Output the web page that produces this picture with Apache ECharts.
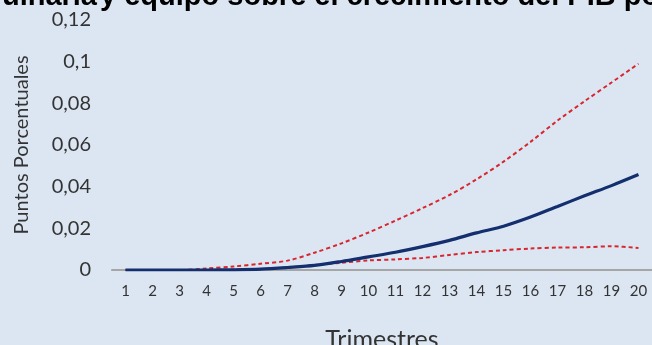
<!DOCTYPE html>
<html>
<head>
<meta charset="utf-8">
<script src="https://cdn.jsdelivr.net/npm/echarts@6/dist/echarts.min.js"></script>
<style>
html,body{margin:0;padding:0;background:#dce6f2;}
#chart{width:652px;height:345px;}
</style>
</head>
<body>
<div id="chart"></div>
<script>
var categories = ['1','2','3','4','5','6','7','8','9','10','11','12','13','14','15','16','17','18','19','20'];
var central = [0, 0, 0, 0, 0.0001, 0.0004, 0.0012, 0.0022, 0.0041, 0.0063, 0.0085, 0.0112, 0.0142, 0.0178, 0.0210, 0.0254, 0.0305, 0.0356, 0.0405, 0.0458];
var upper = [0, 0, 0, 0.0007, 0.0017, 0.0030, 0.0045, 0.0083, 0.0128, 0.0180, 0.0237, 0.0297, 0.0360, 0.0435, 0.0520, 0.0615, 0.0717, 0.0810, 0.0900, 0.0990];
var lower = [0, 0, 0, 0, 0.0002, 0.0004, 0.0012, 0.0024, 0.0035, 0.0046, 0.0051, 0.0058, 0.0072, 0.0086, 0.0095, 0.0103, 0.0108, 0.0109, 0.0114, 0.0106];
var yTicks = [0, 0.02, 0.04, 0.06, 0.08, 0.1, 0.12];
var yTickLabels = ['0', '0,02', '0,04', '0,06', '0,08', '0,1', '0,12'];
var titleLeft = 'Efecto de la inversión en maquinaria';
var titleRight = 'y equipo sobre el crecimiento del PIB por trimestre';

var chart = echarts.init(document.getElementById('chart'));
var fontFam = 'Lato, "Open Sans", sans-serif';
var titleFont = 'bold 29px "Liberation Sans", Arial, sans-serif';
chart.setOption({
  backgroundColor: '#dce6f2',
  animation: false,
  graphic: [
    {type: 'text', x: 97, y: -3, style: {text: titleLeft, font: titleFont, fill: '#000', align: 'right', verticalAlign: 'middle'}},
    {type: 'text', x: 100, y: -3, style: {text: titleRight, font: titleFont, fill: '#000', align: 'left', verticalAlign: 'middle'}}
  ],
  grid: {left: 112, right: 0, top: 20, bottom: 75, containLabel: false, outerBoundsMode: 'none'},
  xAxis: {
    type: 'category',
    data: categories,
    boundaryGap: true,
    axisLine: {lineStyle: {color: '#a6a6a6', width: 2}},
    axisTick: {show: false},
    axisLabel: {color: '#333', fontFamily: fontFam, fontSize: 15, margin: 14, interval: 0},
    name: 'Trimestres',
    nameLocation: 'middle',
    nameGap: 57,
    nameTextStyle: {color: '#333', fontFamily: fontFam, fontSize: 25}
  },
  yAxis: {
    type: 'value',
    min: 0, max: 0.12, interval: 0.02,
    axisLine: {show: false},
    axisTick: {show: false},
    splitLine: {show: false},
    axisLabel: {
      color: '#333', fontFamily: fontFam, fontSize: 20, margin: 21,
      formatter: function (v) {
        for (var i = 0; i < yTicks.length; i++) { if (Math.abs(yTicks[i] - v) < 1e-9) return yTickLabels[i]; }
        return '';
      }
    },
    name: 'Puntos Porcentuales',
    nameLocation: 'middle',
    nameGap: 80,
    nameTextStyle: {color: '#333', fontFamily: fontFam, fontSize: 20}
  },
  series: [
    {type: 'line', data: upper, symbol: 'none', smooth: 0.3, lineStyle: {color: '#d7262e', width: 2, type: [4, 3]}, z: 2},
    {type: 'line', data: lower, symbol: 'none', smooth: 0.3, lineStyle: {color: '#d7262e', width: 2, type: [4, 3]}, z: 2},
    {type: 'line', data: central, symbol: 'none', smooth: 0.3, lineStyle: {color: '#142f6e', width: 3.2}, z: 3}
  ]
});
</script>
</body>
</html>
